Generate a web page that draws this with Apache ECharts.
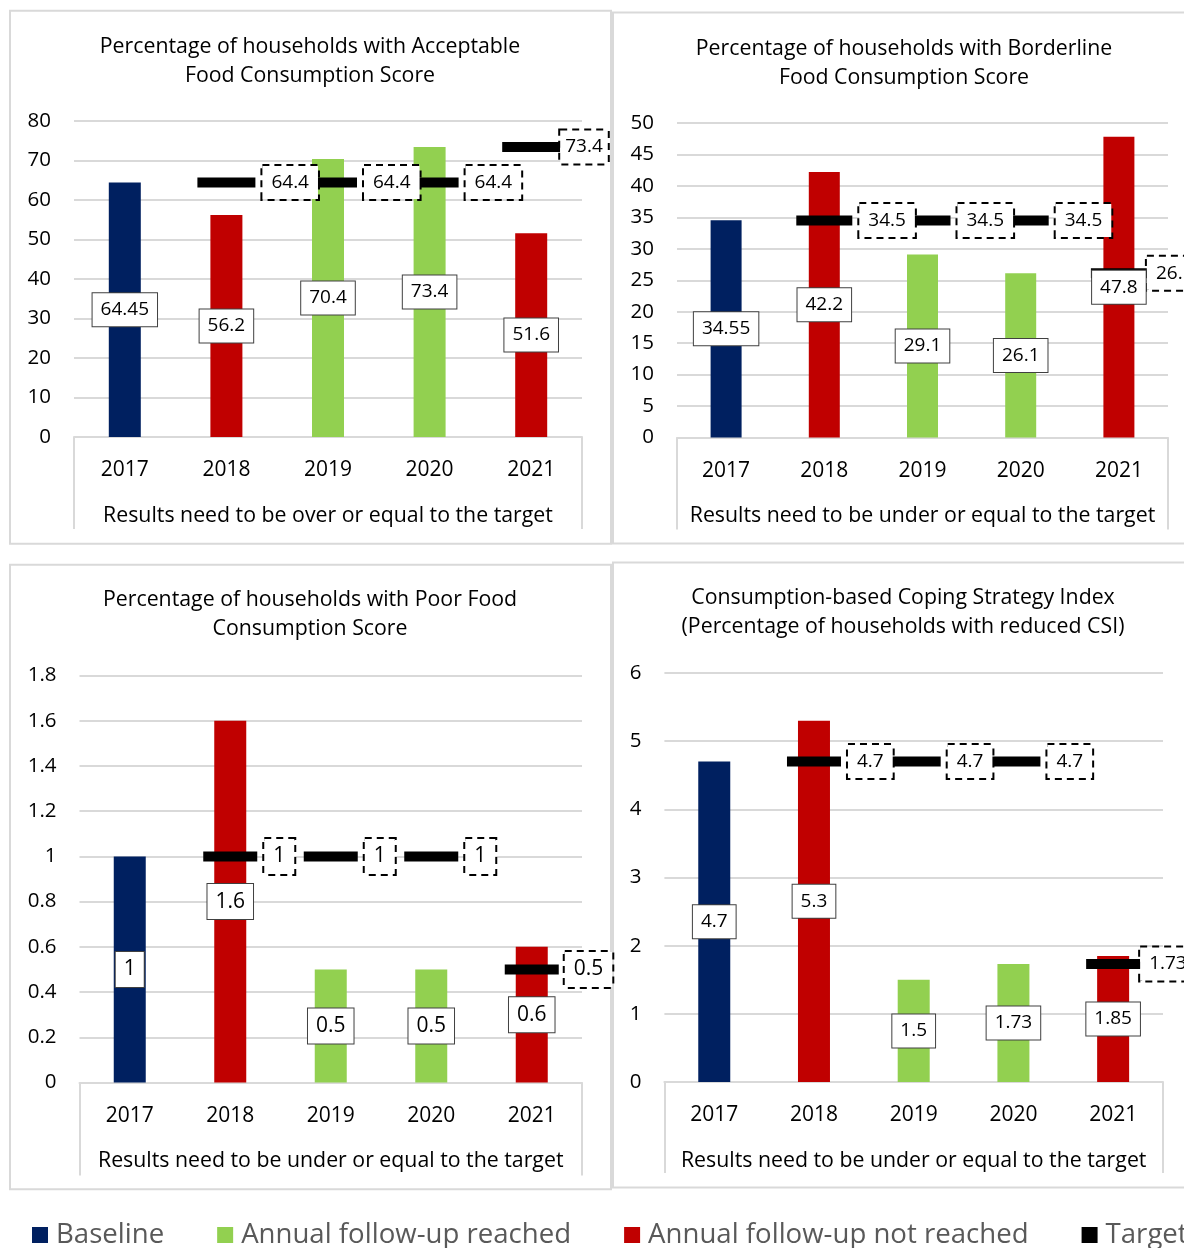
<!DOCTYPE html>
<html>
<head>
<meta charset="utf-8">
<script src="https://cdn.jsdelivr.net/npm/echarts@6.0.0/dist/echarts.min.js"></script>
<style>
html,body{margin:0;padding:0;background:#fff;}
#chart{width:1184px;height:1248px;}
</style>
</head>
<body>
<div id="chart"></div>
<script>
// ---------------- DATA ----------------
const years = ['2017', '2018', '2019', '2020', '2021'];
const panelTitles = [
  'Percentage of households with Acceptable\nFood Consumption Score',
  'Percentage of households with Borderline\nFood Consumption Score',
  'Percentage of households with Poor Food\nConsumption Score',
  'Consumption-based Coping Strategy Index\n(Percentage of households with reduced CSI)'
];
const panelNotes = [
  'Results need to be over or equal to the target',
  'Results need to be under or equal to the target',
  'Results need to be under or equal to the target',
  'Results need to be under or equal to the target'
];
const legendNames = ['Baseline', 'Annual follow-up reached', 'Annual follow-up not reached', 'Target'];
const B = legendNames[0], R = legendNames[1], N = legendNames[2];

const acceptableValues  = [64.45, 56.2, 70.4, 73.4, 51.6];
const acceptableStatus  = [B, N, R, R, N];
const acceptableTargets = [null, 64.4, 64.4, 64.4, 73.4];

const borderlineValues  = [34.55, 42.2, 29.1, 26.1, 47.8];
const borderlineStatus  = [B, N, R, R, N];
const borderlineTargets = [null, 34.5, 34.5, 34.5, 26.1];

const poorValues  = [1, 1.6, 0.5, 0.5, 0.6];
const poorStatus  = [B, N, R, R, N];
const poorTargets = [null, 1, 1, 1, 0.5];

const csiValues  = [4.7, 5.3, 1.5, 1.73, 1.85];
const csiStatus  = [B, N, R, R, N];
const csiTargets = [null, 4.7, 4.7, 4.7, 1.73];

const yAxisMax  = [80, 50, 1.8, 6];
const yAxisStep = [10, 5, 0.2, 1];

// ---------------- STYLE / LAYOUT ----------------
const colors = { [B]: '#002060', [R]: '#92D050', [N]: '#C00000', Target: '#000000' };
const panels = [
  { values: acceptableValues, status: acceptableStatus, targets: acceptableTargets },
  { values: borderlineValues, status: borderlineStatus, targets: borderlineTargets },
  { values: poorValues, status: poorStatus, targets: poorTargets },
  { values: csiValues, status: csiStatus, targets: csiTargets }
];
const layout = [
  { left: 74,    top: 121,   width: 508,   height: 316,   titleX: 310, titleY: 32,  barW: 32, markW: 58, lblSize: 19, lastDist: 0, lastPad: [7, 5], tick: 92, box: [10, 10.7, 601, 533] },
  { left: 677,   top: 123,   width: 491,   height: 314.5, titleX: 904, titleY: 34,  barW: 31, markW: 56, lblSize: 19, lastDist: 0, lastPad: [7, 9], tick: 92, box: [613, 12.5, 600, 531] },
  { left: 79.5,  top: 675.5, width: 502.5, height: 407,   titleX: 310, titleY: 585, barW: 32, markW: 54, lblSize: 21, lastDist: 6, lastPad: [7, 9], tick: 93, box: [10, 564.7, 601, 624.5] },
  { left: 664.4, top: 673,   width: 498.6, height: 409,   titleX: 903, titleY: 583, barW: 32, markW: 54, lblSize: 19, lastDist: 0, lastPad: [7, 9], tick: 91, box: [613, 562.5, 600, 625] }
];
const FONT = 'Open Sans';
const GRID_GREY = '#d9d9d9';

const grid = [], xAxis = [], yAxis = [], series = [], title = [], graphic = [];

layout.forEach((L, g) => {
  grid.push({ left: L.left, top: L.top, width: L.width, height: L.height, containLabel: false });
  title.push({
    text: panelTitles[g], left: L.titleX, top: L.titleY, textAlign: 'center', padding: 0,
    textStyle: { fontFamily: FONT, fontSize: 21.3, fontWeight: 'normal', color: '#000', lineHeight: 29 }
  });
  graphic.push({
    type: 'rect', silent: true, z: -10,
    shape: { x: L.box[0], y: L.box[1], width: L.box[2], height: L.box[3] },
    style: { fill: 'none', stroke: GRID_GREY, lineWidth: 2 }
  });
  yAxis.push({
    type: 'value', gridIndex: g, min: 0, max: yAxisMax[g], interval: yAxisStep[g],
    axisLine: { show: false }, axisTick: { show: false },
    axisLabel: { fontFamily: FONT, fontSize: 20.5, color: '#000', margin: 23 },
    splitLine: { show: true, lineStyle: { color: GRID_GREY, width: 2 } }
  });
});
// year axes (0..3)
layout.forEach((L, g) => {
  xAxis.push({
    type: 'category', gridIndex: g, data: years, position: 'bottom',
    axisLine: { show: true, onZero: false, lineStyle: { color: GRID_GREY, width: 2 } },
    axisTick: { show: false },
    axisLabel: { fontFamily: FONT, fontSize: 21, color: '#000', margin: 23, interval: 0 },
    splitLine: { show: false }
  });
});
// note axes (4..7) - second level of category axis
layout.forEach((L, g) => {
  xAxis.push({
    type: 'category', gridIndex: g, data: [panelNotes[g]], position: 'bottom',
    axisLine: { show: false },
    axisTick: { show: true, length: L.tick, lineStyle: { color: GRID_GREY, width: 2 } },
    axisLabel: { fontFamily: FONT, fontSize: 21.3, color: '#000', margin: 68, interval: 0 },
    splitLine: { show: false }
  });
});

panels.forEach((p, g) => {
  const L = layout[g];
  [B, R, N].forEach(name => {
    series.push({
      type: 'bar', name, stack: 'bars' + g, xAxisIndex: g, yAxisIndex: g,
      barWidth: L.barW, z: 2, silent: true,
      itemStyle: { color: colors[name] },
      data: p.values.map((v, i) => (p.status[i] === name ? v : '-'))
    });
  });
  // value labels (transparent overlay bars, drawn above targets)
  series.push({
    type: 'bar', name: 'values' + g, xAxisIndex: g, yAxisIndex: g,
    barWidth: L.barW, barGap: '-100%', z: 6, silent: true,
    itemStyle: { color: 'rgba(0,0,0,0)' },
    data: p.values,
    label: {
      show: true, position: 'inside', fontFamily: FONT, fontSize: L.lblSize, color: '#000',
      backgroundColor: '#fff', borderColor: '#404040', borderWidth: 1,
      padding: [8, 8, 6, 8]
    }
  });
  // targets
  const last = p.targets.length - 1;
  series.push({
    type: 'scatter', name: 'Target', xAxisIndex: g, yAxisIndex: g, z: 4, silent: true,
    symbol: 'rect', symbolSize: [L.markW, 10], clip: false,
    itemStyle: { color: colors.Target, opacity: 1 },
    data: p.targets.map((v, i) => {
      if (v == null) return '-';
      return i === last ? { value: v, label: { distance: L.lastDist, padding: L.lastPad } } : v;
    }),
    label: {
      show: true, position: 'right', distance: 7, fontFamily: FONT, fontSize: L.lblSize, color: '#000',
      backgroundColor: '#fff', borderColor: '#000', borderWidth: 2, borderType: [7, 5],
      padding: [7, 9], opacity: 1
    }
  });
});

const option = {
  animation: false,
  backgroundColor: '#fff',
  textStyle: { fontFamily: FONT },
  title, grid, xAxis, yAxis, series, graphic,
  legend: {
    data: legendNames, left: 32, top: 1221, padding: 0, width: 1400,
    icon: 'path://M0,0H16V16H0Z', itemWidth: 22, itemHeight: 16, itemGap: 53,
    selectedMode: false,
    textStyle: { fontFamily: FONT, fontSize: 27.6, color: '#595959' }
  }
};

const chart = echarts.init(document.getElementById('chart'), null, { renderer: 'canvas' });
chart.setOption(option);
</script>
</body>
</html>
